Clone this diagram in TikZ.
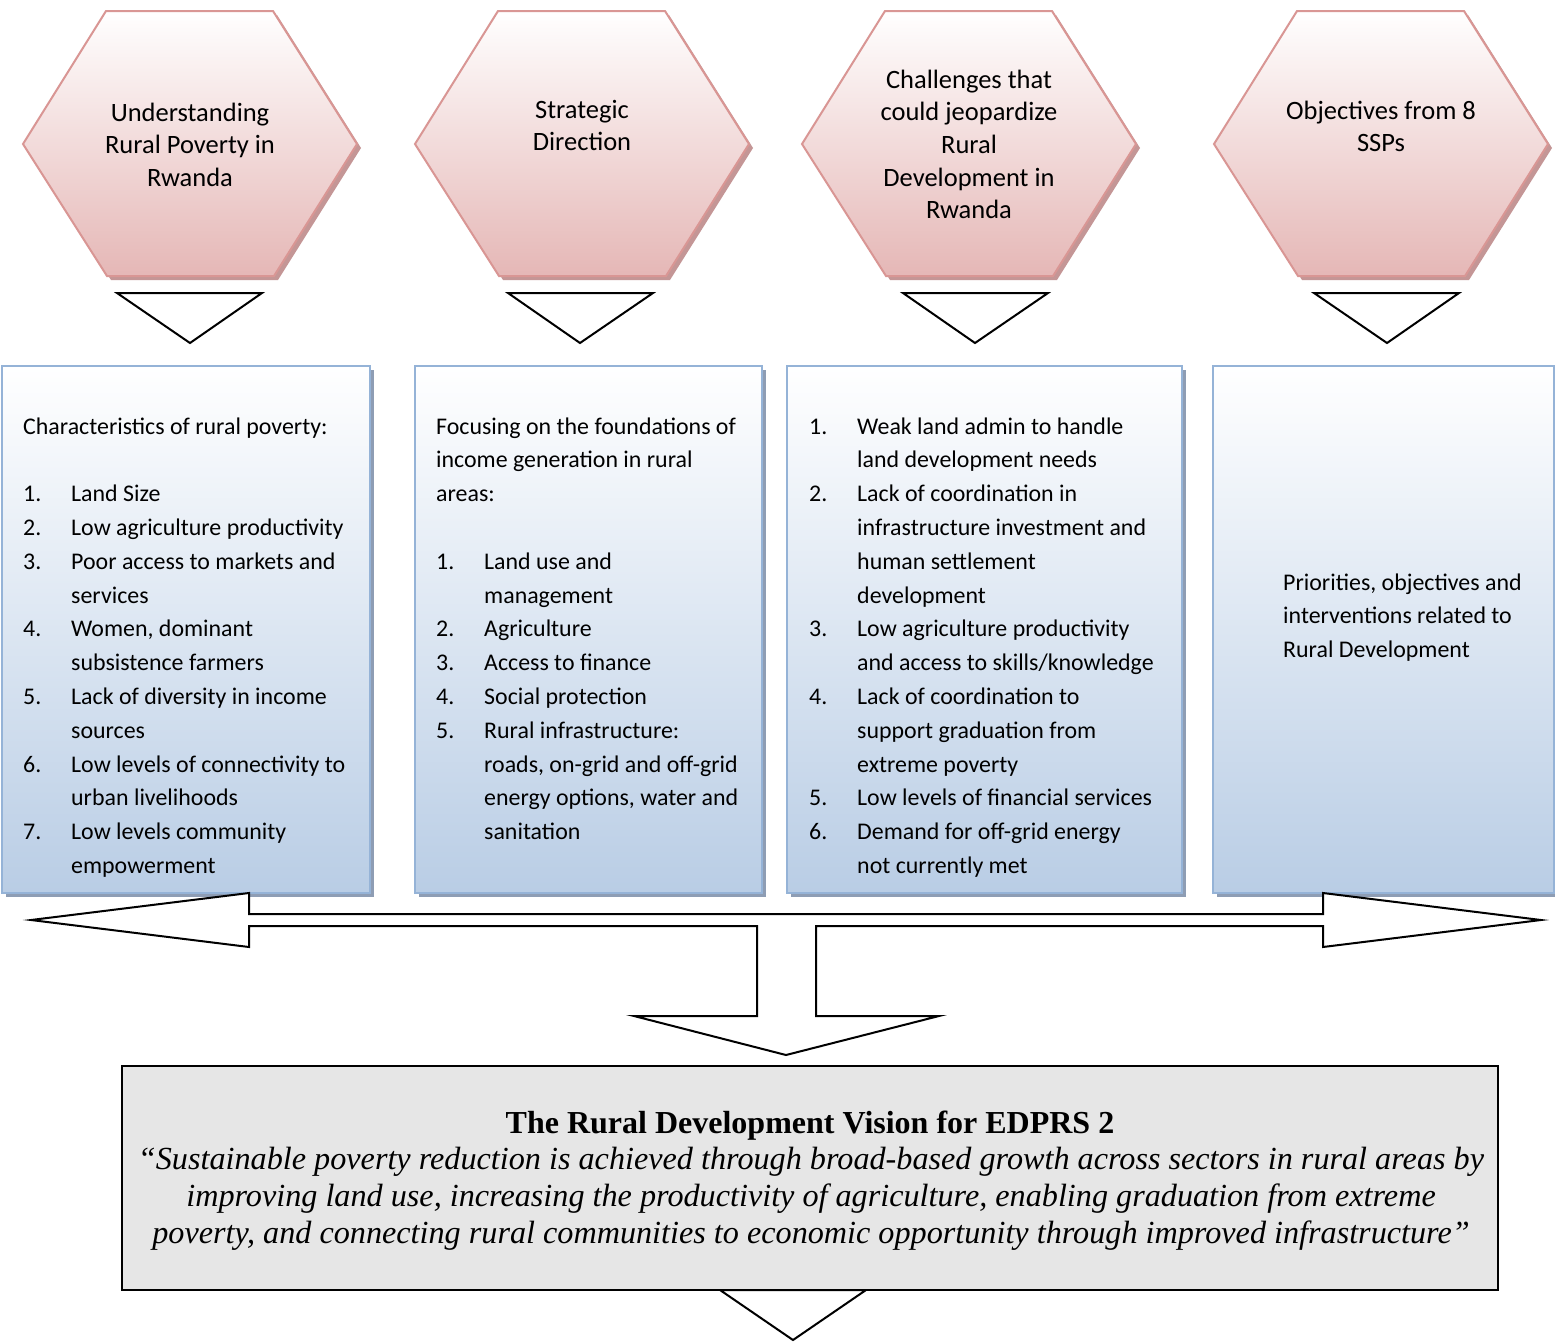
\documentclass[tikz,border=0pt]{standalone}
\usepackage{fontspec}
\setmainfont{Carlito}
\newfontfamily\tnr{Liberation Serif}
\definecolor{hexline}{RGB}{217,150,148}
\definecolor{hexbot}{RGB}{229,183,182}
\definecolor{hexshad}{RGB}{196,150,150}
\definecolor{boxline}{RGB}{149,179,215}
\definecolor{boxbot}{RGB}{185,205,229}
\definecolor{boxshad}{RGB}{142,157,180}
\definecolor{visfill}{RGB}{230,230,230}
\tikzset{
 hexshape/.style={draw=hexline, line width=2pt, top color=white, bottom color=hexbot},
 hexshadow/.style={fill=hexshad},
 boxshape/.style={draw=boxline, line width=2pt, top color=white, bottom color=boxbot},
 boxshadow/.style={fill=boxshad},
 blockarrow/.style={draw=black, line width=2pt, fill=white, line join=miter},
 hextext/.style={anchor=base, inner sep=0pt, font=\fontsize{26.5}{32.7}\selectfont},
 boxtext/.style={anchor=base west, inner sep=0pt, font=\fontsize{23.9}{33.8}\selectfont},
 vistext/.style={anchor=base, inner sep=0pt},
}
\newcommand\num[1]{\makebox[48pt][l]{#1}}
\newcommand\ind{\hspace*{48pt}}
\begin{document}
\begin{tikzpicture}[x=1pt,y=-1pt]
\useasboundingbox (0,0) rectangle (1555,1342);
\fill[white] (0,0) rectangle (1555,1342);

% hexagons
\foreach \cx in {190,582,969,1381}{
  \begin{scope}[shift={(\cx+4,4)}]
    \fill[hexshadow] (-84,11) -- (83,11) -- (167,144) -- (84,276) -- (-83,276) -- (-167,144) -- cycle;
  \end{scope}
  \begin{scope}[shift={(\cx,0)}]
    \path[hexshape] (-84,11) -- (83,11) -- (167,144) -- (84,276) -- (-83,276) -- (-167,144) -- cycle;
  \end{scope}
}
\node[hextext] (h1) at (190,121) {\begin{tabular}[t]{@{}c@{}}Understanding\\Rural Poverty in\\Rwanda\end{tabular}};
\node[hextext] (h2) at (582,118) {\begin{tabular}[t]{@{}c@{}}Strategic\\Direction\end{tabular}};
\node[hextext] (h3) at (969,88) {\begin{tabular}[t]{@{}c@{}}Challenges that\\could jeopardize\\Rural\\Development in\\Rwanda\end{tabular}};
\node[hextext] (h4) at (1381,119) {\begin{tabular}[t]{@{}c@{}}Objectives from 8\\SSPs\end{tabular}};

% small down triangles
\path[blockarrow] (117,293) -- (262,293) -- (190,343) -- cycle;
\path[blockarrow] (508,293) -- (653,293) -- (580,343) -- cycle;
\path[blockarrow] (903,293) -- (1048,293) -- (975,343) -- cycle;
\path[blockarrow] (1314,293) -- (1459,293) -- (1387,343) -- cycle;

% boxes
\fill[boxshadow] (6,370) rectangle (374,897);
\path[boxshape] (2,366) rectangle (370,893);
\fill[boxshadow] (419,370) rectangle (766,897);
\path[boxshape] (415,366) rectangle (762,893);
\fill[boxshadow] (791,370) rectangle (1186,897);
\path[boxshape] (787,366) rectangle (1182,893);
\fill[boxshadow] (1217,370) rectangle (1560,897);
\path[boxshape] (1213,366) rectangle (1554,893);

\node[boxtext] (t1) at (23,434) {\begin{tabular}[t]{@{}l@{}}
Characteristics of rural poverty:\\
\mbox{}\\
\num{1.}Land Size\\
\num{2.}Low agriculture productivity\\
\num{3.}Poor access to markets and\\
\ind services\\
\num{4.}Women, dominant\\
\ind subsistence farmers\\
\num{5.}Lack of diversity in income\\
\ind sources\\
\num{6.}Low levels of connectivity to\\
\ind urban livelihoods\\
\num{7.}Low levels community\\
\ind empowerment
\end{tabular}};

\node[boxtext] (t2) at (436,434) {\begin{tabular}[t]{@{}l@{}}
Focusing on the foundations of\\
income generation in rural\\
areas:\\
\mbox{}\\
\num{1.}Land use and\\
\ind management\\
\num{2.}Agriculture\\
\num{3.}Access to finance\\
\num{4.}Social protection\\
\num{5.}Rural infrastructure:\\
\ind roads, on-grid and off-grid\\
\ind energy options, water and\\
\ind sanitation
\end{tabular}};

\node[boxtext] (t3) at (809,434) {\begin{tabular}[t]{@{}l@{}}
\num{1.}Weak land admin to handle\\
\ind land development needs\\
\num{2.}Lack of coordination in\\
\ind infrastructure investment and\\
\ind human settlement\\
\ind development\\
\num{3.}Low agriculture productivity\\
\ind and access to skills/knowledge\\
\num{4.}Lack of coordination to\\
\ind support graduation from\\
\ind extreme poverty\\
\num{5.}Low levels of financial services\\
\num{6.}Demand for off-grid energy\\
\ind not currently met
\end{tabular}};

\node[boxtext] (t4) at (1283,590) {\begin{tabular}[t]{@{}l@{}}
Priorities, objectives and\\
interventions related to\\
Rural Development
\end{tabular}};

% big branching arrow
\path[blockarrow] (31,920) -- (249,893) -- (249,914) -- (1323,914) -- (1323,893)
  -- (1541,920) -- (1323,947) -- (1323,926) -- (816,926) -- (816,1016) -- (939,1016)
  -- (786,1055) -- (634,1016) -- (757,1016) -- (757,926) -- (249,926) -- (249,947) -- cycle;

% vision box
\path[draw=black, line width=2pt, fill=visfill] (122,1066) rectangle (1498,1290);
\path[blockarrow] (720,1290) -- (866,1290) -- (793,1340) -- cycle;
\draw[black, line width=2pt] (122,1066) rectangle (1498,1290);

\node[vistext, font=\tnr\bfseries\fontsize{32}{37}\selectfont] (vt) at (810,1133) {The Rural Development Vision for EDPRS 2};
\node[vistext, font=\tnr\itshape\fontsize{32.2}{37}\selectfont] (vq) at (811,1169) {\begin{tabular}[t]{@{}c@{}}
“Sustainable poverty reduction is achieved through broad-based growth across sectors in rural areas by\\
improving land use, increasing the productivity of agriculture, enabling graduation from extreme\\
poverty, and connecting rural communities to economic opportunity through improved infrastructure”
\end{tabular}};
\end{tikzpicture}
\end{document}
